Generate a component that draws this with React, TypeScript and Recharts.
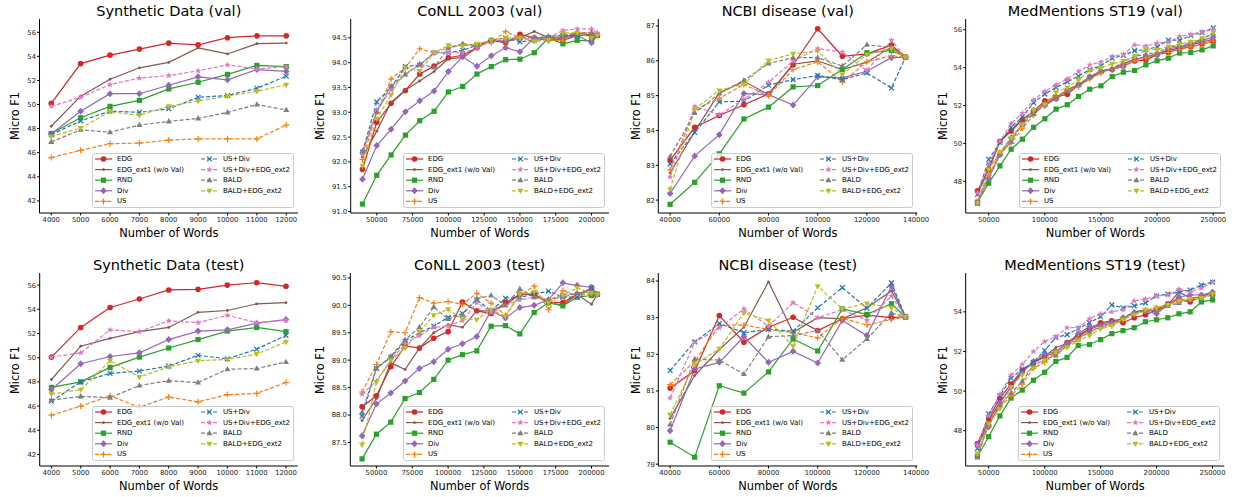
import React from 'react';
import { LineChart, Line, XAxis, YAxis } from 'recharts';

// method order is shared by every panel
const methods = ['EDG', 'EDG_ext1 (w/o Val)', 'RND', 'Div', 'US', 'US+Div', 'US+Div+EDG_ext2', 'BALD', 'BALD+EDG_ext2'];
const colors = ['#d62728', '#8c564b', '#2ca02c', '#9467bd', '#ff7f0e', '#1f77b4', '#e377c2', '#7f7f7f', '#bcbd22'];
const markerKinds = ['circle', 'point', 'square', 'diamond', 'plus', 'x', 'star', 'triUp', 'triDown'];
const dashedLines = [false, false, false, false, true, true, true, true, true];

// x values (number of words)
const synWords = [4000, 5000, 6000, 7000, 8000, 9000, 10000, 11000, 12000];
const conllWords = [40000, 50000, 60000, 70000, 80000, 90000, 100000, 110000, 120000, 130000, 140000, 150000, 160000, 170000, 180000, 190000, 200000, 204000];
const ncbiWords = [40000, 50000, 60000, 70000, 80000, 90000, 100000, 110000, 120000, 130000, 135700];
const medWords = [40000, 50000, 60000, 70000, 80000, 90000, 100000, 110000, 120000, 130000, 140000, 150000, 160000, 170000, 180000, 190000, 200000, 210000, 220000, 230000, 240000, 250000];

// Micro F1, one row per method (same order as `methods`)
const synValF1 = [
  [50.1, 53.4, 54.1, 54.6, 55.1, 54.95, 55.55, 55.7, 55.7],
  [48.2, 50.7, 52.1, 53.05, 53.5, 54.7, 54.2, 55.05, 55.1],
  [47.6, 48.9, 49.85, 50.35, 51.3, 51.85, 52.5, 53.25, 53.15],
  [47.55, 49.45, 50.9, 50.9, 51.6, 52.3, 52.05, 52.9, 52.75],
  [45.6, 46.2, 46.75, 46.8, 47.05, 47.15, 47.15, 47.15, 48.3],
  [47.5, 48.65, 49.45, 49.35, 49.65, 50.6, 50.75, 51.35, 52.35],
  [49.85, 50.6, 51.65, 52.2, 52.4, 52.8, 53.3, 52.95, 53.15],
  [46.9, 47.9, 47.7, 48.3, 48.6, 48.85, 49.35, 50.0, 49.55],
  [47.35, 48.05, 49.4, 49.1, 49.85, 50.3, 50.7, 51.1, 51.65],
];
const synTestF1 = [
  [50.05, 52.5, 54.15, 54.85, 55.6, 55.65, 56.0, 56.2, 55.9],
  [48.2, 50.95, 51.6, 52.15, 52.5, 53.75, 53.9, 54.45, 54.55],
  [47.55, 48.0, 49.2, 50.05, 50.8, 51.5, 52.2, 52.5, 52.15],
  [47.35, 49.5, 50.1, 50.4, 51.5, 52.2, 52.3, 52.85, 53.15],
  [45.25, 46.0, 46.85, 45.9, 46.75, 46.35, 46.95, 47.05, 47.95],
  [46.4, 48.0, 48.7, 48.9, 49.3, 50.2, 49.9, 50.7, 51.85],
  [50.05, 50.4, 52.3, 52.15, 53.05, 52.9, 53.5, 52.9, 53.1],
  [46.5, 46.8, 46.7, 47.7, 48.1, 47.95, 49.05, 49.1, 49.65],
  [47.0, 47.35, 49.75, 48.4, 49.25, 49.75, 49.85, 50.3, 51.3],
];
const conllValF1 = [
  [91.85, 92.8, 93.18, 93.44, 93.77, 93.93, 94.1, 94.15, 94.3, 94.45, 94.4, 94.57, 94.5, 94.5, 94.45, 94.55, 94.55, 94.55],
  [92.1, 92.62, 93.2, 93.45, 93.63, 93.82, 94.08, 94.1, 94.3, 94.47, 94.42, 94.5, 94.63, 94.5, 94.5, 94.6, 94.55, 94.55],
  [91.15, 91.73, 92.14, 92.54, 92.83, 93.02, 93.41, 93.52, 93.77, 93.92, 94.06, 94.07, 94.2, 94.5, 94.38, 94.45, 94.44, 94.55],
  [91.65, 92.33, 92.66, 93.01, 93.23, 93.43, 93.82, 94.12, 93.93, 94.14, 94.3, 94.22, 94.5, 94.45, 94.5, 94.55, 94.4, 94.55],
  [92.05, 93.0, 93.67, 93.9, 94.28, 94.2, 94.3, 94.35, 94.35, 94.4, 94.63, 94.5, 94.45, 94.45, 94.45, 94.6, 94.6, 94.55],
  [92.2, 93.21, 93.5, 93.92, 93.95, 94.2, 94.2, 94.25, 94.35, 94.45, 94.5, 94.42, 94.45, 94.5, 94.55, 94.55, 94.55, 94.55],
  [92.15, 93.05, 93.45, 93.78, 93.95, 94.2, 94.2, 94.2, 94.3, 94.45, 94.45, 94.5, 94.45, 94.5, 94.65, 94.68, 94.68, 94.6],
  [92.22, 93.0, 93.53, 93.76, 93.97, 93.9, 94.3, 94.38, 94.35, 94.45, 94.42, 94.5, 94.5, 94.53, 94.55, 94.6, 94.6, 94.55],
  [91.92, 92.87, 93.35, 93.9, 93.83, 94.2, 94.35, 94.33, 94.38, 94.45, 94.5, 94.5, 94.43, 94.45, 94.6, 94.6, 94.5, 94.55],
];
const conllTestF1 = [
  [88.15, 88.35, 88.88, 89.26, 89.22, 89.4, 89.52, 90.06, 89.9, 89.85, 90.05, 90.2, 90.2, 90.05, 90.05, 90.2, 90.3, 90.2],
  [87.9, 88.3, 88.95, 88.83, 89.22, 89.5, 89.65, 89.6, 89.9, 89.9, 90.0, 90.2, 90.2, 90.05, 90.0, 90.2, 90.02, 90.2],
  [87.2, 87.65, 87.87, 88.3, 88.41, 88.65, 89.0, 89.1, 89.17, 89.62, 89.63, 89.48, 89.87, 90.05, 89.99, 90.15, 90.18, 90.2],
  [87.62, 88.2, 88.4, 88.62, 88.85, 88.97, 89.2, 89.3, 89.43, 89.9, 89.77, 89.96, 90.0, 90.1, 90.41, 90.36, 90.33, 90.2],
  [88.42, 88.92, 89.52, 89.5, 90.14, 90.04, 90.07, 90.02, 90.22, 90.04, 89.82, 90.18, 90.35, 89.92, 90.27, 90.17, 90.22, 90.2],
  [87.98, 88.85, 89.05, 89.35, 89.5, 89.62, 89.78, 89.85, 90.1, 89.9, 90.13, 90.15, 90.2, 90.26, 90.15, 90.15, 90.32, 90.2],
  [88.38, 88.62, 89.0, 89.3, 89.45, 89.6, 89.62, 89.72, 90.05, 89.87, 90.0, 90.1, 90.15, 90.1, 90.2, 90.2, 90.25, 90.2],
  [88.05, 88.85, 89.07, 89.37, 89.6, 89.97, 89.75, 89.83, 90.12, 90.18, 90.0, 90.3, 90.15, 90.1, 90.15, 90.22, 90.25, 90.2],
  [87.46, 88.6, 89.0, 89.22, 89.52, 89.82, 89.93, 89.75, 89.74, 89.92, 89.8, 90.2, 90.25, 90.05, 90.18, 90.32, 90.22, 90.2],
];
const ncbiValF1 = [
  [83.15, 84.09, 84.43, 84.74, 85.05, 85.88, 86.92, 86.13, 86.2, 86.45, 86.1],
  [82.78, 83.97, 85.08, 85.41, 85.03, 85.9, 86.0, 85.75, 85.96, 86.4, 86.1],
  [81.88, 82.51, 83.33, 84.33, 84.67, 85.25, 85.29, 85.75, 86.23, 86.3, 86.1],
  [82.19, 83.27, 83.88, 85.06, 85.03, 84.73, 85.54, 85.51, 85.7, 86.09, 86.1],
  [82.87, 84.6, 84.92, 85.32, 85.0, 85.75, 85.97, 85.39, 85.97, 86.15, 86.1],
  [83.04, 83.94, 84.82, 84.84, 85.3, 85.46, 85.58, 85.46, 85.65, 85.22, 86.1],
  [82.67, 84.69, 84.45, 84.9, 85.38, 86.0, 86.35, 86.25, 85.72, 86.59, 86.1],
  [83.25, 84.5, 85.06, 85.44, 85.92, 86.09, 86.09, 85.85, 86.46, 86.38, 86.1],
  [82.31, 84.62, 85.15, 85.33, 86.01, 86.2, 86.28, 85.61, 86.18, 86.35, 86.1],
];
const ncbiTestF1 = [
  [81.08, 81.55, 83.06, 82.33, 82.74, 83.01, 82.65, 82.97, 83.07, 83.0, 83.02],
  [80.25, 81.42, 82.13, 82.74, 83.98, 82.6, 83.0, 82.97, 83.27, 83.73, 83.02],
  [79.6, 79.19, 81.14, 80.94, 81.52, 82.42, 82.09, 83.24, 83.09, 83.38, 83.02],
  [79.91, 81.6, 81.78, 82.48, 81.78, 82.08, 81.76, 82.92, 82.51, 83.86, 83.02],
  [81.17, 81.81, 82.79, 82.8, 82.68, 82.59, 82.45, 82.98, 82.8, 82.95, 83.02],
  [81.56, 82.34, 82.84, 82.59, 82.68, 82.63, 83.27, 83.82, 83.26, 83.95, 83.02],
  [80.81, 82.33, 82.72, 83.24, 82.77, 83.41, 83.0, 83.22, 82.93, 83.59, 83.02],
  [80.08, 81.87, 81.84, 81.46, 82.48, 82.51, 82.65, 81.85, 82.42, 83.13, 83.02],
  [80.35, 81.72, 82.15, 83.13, 82.92, 82.22, 83.86, 83.24, 83.39, 83.27, 83.02],
];
const medValF1 = [
  [47.49, 48.6, 50.1, 50.65, 51.25, 51.7, 52.25, 52.45, 52.6, 53.1, 53.5, 53.8, 53.9, 54.1, 54.35, 54.4, 54.7, 54.8, 55.0, 55.1, 55.25, 55.4],
  [47.3, 48.7, 50.1, 50.7, 51.3, 51.6, 52.1, 52.4, 52.8, 53.1, 53.4, 53.8, 53.95, 54.2, 54.45, 54.55, 54.75, 54.9, 55.05, 55.2, 55.35, 55.5],
  [46.89, 47.89, 48.81, 49.69, 50.22, 50.85, 51.3, 51.81, 52.04, 52.48, 52.86, 53.04, 53.53, 53.76, 53.85, 54.15, 54.36, 54.5, 54.77, 54.8, 54.94, 55.15],
  [46.9, 48.15, 49.4, 50.3, 51.0, 51.75, 52.0, 52.35, 52.85, 53.1, 53.5, 53.8, 53.9, 54.05, 54.4, 54.6, 54.65, 55.0, 55.1, 55.25, 55.45, 55.6],
  [46.9, 48.3, 49.5, 50.0, 50.8, 51.5, 52.1, 52.5, 52.8, 53.0, 53.4, 53.7, 53.95, 54.1, 54.35, 54.5, 54.75, 54.8, 54.95, 55.1, 55.25, 55.4],
  [47.3, 49.15, 50.05, 50.85, 51.4, 52.15, 52.6, 52.95, 53.25, 53.55, 53.9, 54.1, 54.5, 54.65, 54.9, 54.95, 55.1, 55.45, 55.45, 55.7, 55.85, 56.1],
  [47.4, 48.9, 50.1, 51.05, 51.6, 52.3, 52.75, 53.1, 53.4, 53.8, 54.15, 54.3, 54.6, 54.7, 55.2, 55.15, 55.3, 55.35, 55.65, 55.75, 55.9, 56.0],
  [46.8, 48.7, 49.4, 50.1, 51.0, 51.55, 52.05, 52.35, 52.75, 53.1, 53.5, 53.85, 53.95, 54.3, 54.6, 54.7, 54.8, 55.05, 55.2, 55.3, 55.5, 55.8],
  [46.85, 48.6, 49.55, 50.3, 51.0, 51.75, 52.05, 52.7, 52.95, 53.35, 53.85, 54.0, 54.2, 54.35, 54.6, 54.95, 54.95, 55.1, 55.25, 55.35, 55.55, 55.85],
];
const medTestF1 = [
  [47.35, 48.6, 49.65, 50.35, 51.05, 51.4, 51.75, 51.95, 52.45, 52.8, 53.15, 53.45, 53.55, 53.45, 53.7, 53.85, 54.1, 54.4, 54.65, 54.5, 54.8, 54.85],
  [47.2, 48.5, 49.45, 50.2, 51.0, 51.45, 51.75, 52.2, 52.4, 52.75, 53.1, 53.35, 53.55, 53.65, 54.0, 54.1, 54.05, 54.35, 55.0, 54.7, 54.75, 55.0],
  [46.7, 47.7, 48.75, 49.65, 50.05, 50.55, 50.95, 51.5, 51.7, 52.3, 52.35, 52.6, 52.9, 53.05, 53.2, 53.5, 53.6, 53.7, 53.9, 54.0, 54.5, 54.6],
  [47.3, 48.2, 49.4, 50.2, 50.95, 51.5, 51.85, 52.0, 52.4, 52.9, 53.25, 53.3, 53.45, 53.7, 53.95, 54.05, 53.9, 54.35, 54.75, 54.85, 54.85, 55.0],
  [46.75, 48.3, 49.2, 49.75, 50.35, 51.15, 51.45, 51.9, 52.3, 52.7, 53.0, 53.2, 53.3, 53.65, 53.9, 54.05, 54.2, 54.4, 54.5, 54.65, 54.75, 54.9],
  [47.1, 48.85, 49.75, 50.65, 51.1, 51.45, 52.05, 52.7, 52.85, 53.15, 53.45, 53.75, 54.35, 54.2, 54.3, 54.45, 54.8, 54.9, 55.0, 55.1, 55.35, 55.5],
  [47.25, 48.75, 49.85, 50.8, 51.35, 52.0, 52.5, 52.75, 53.2, 53.2, 53.65, 53.9, 54.0, 54.1, 54.55, 54.65, 54.8, 54.85, 55.15, 55.0, 55.2, 55.5],
  [46.65, 48.35, 49.3, 49.9, 50.5, 51.3, 51.6, 51.8, 52.3, 52.6, 53.0, 53.25, 53.4, 53.7, 54.0, 54.05, 54.1, 54.3, 54.45, 54.6, 54.7, 54.85],
  [46.85, 48.35, 49.1, 50.2, 50.8, 51.15, 51.55, 51.95, 52.2, 52.55, 52.8, 53.15, 53.3, 53.6, 53.85, 54.1, 54.2, 54.35, 54.55, 54.65, 54.7, 54.9],
];

// tick labels
const synXTicks = [4000, 5000, 6000, 7000, 8000, 9000, 10000, 11000, 12000];
const synYTicks = [42, 44, 46, 48, 50, 52, 54, 56];
const conllXTicks = [50000, 75000, 100000, 125000, 150000, 175000, 200000];
const conllValYTicks = [91.0, 91.5, 92.0, 92.5, 93.0, 93.5, 94.0, 94.5];
const conllTestYTicks = [87.5, 88.0, 88.5, 89.0, 89.5, 90.0, 90.5];
const ncbiXTicks = [40000, 60000, 80000, 100000, 120000, 140000];
const ncbiValYTicks = [82, 83, 84, 85, 86, 87];
const ncbiTestYTicks = [79, 80, 81, 82, 83, 84];
const medXTicks = [50000, 100000, 150000, 200000, 250000];
const medValYTicks = [48, 50, 52, 54, 56];
const medTestYTicks = [48, 50, 52, 54];

const FONT = 'DejaVu Sans, sans-serif';
const PW = 324;
const PH = 250;

const panels = [
  { title: 'Synthetic Data (val)', px: 0, py: 0, plot: [39.5, 19, 298, 213], ylabX: 15, xs: synWords, f1: synValF1, xDom: [3600, 12400], yDom: [41.0, 57.1], xTicks: synXTicks, yTicks: synYTicks, dec: 0 },
  { title: 'CoNLL 2003 (val)', px: 305, py: 0, plot: [45.7, 19, 304, 213], ylabX: 15, xs: conllWords, f1: conllValF1, xDom: [31800, 212200], yDom: [90.97, 94.88], xTicks: conllXTicks, yTicks: conllValYTicks, dec: 1 },
  { title: 'NCBI disease (val)', px: 615, py: 0, plot: [43.3, 19, 302.3, 213], ylabX: 20.5, xs: ncbiWords, f1: ncbiValF1, xDom: [35200, 140500], yDom: [81.63, 87.2], xTicks: ncbiXTicks, yTicks: ncbiValYTicks, dec: 0 },
  { title: 'MedMentions ST19 (val)', px: 925, py: 0, plot: [40.7, 19, 300, 213], ylabX: 18, xs: medWords, f1: medValF1, xDom: [29500, 260500], yDom: [46.32, 56.57], xTicks: medXTicks, yTicks: medValYTicks, dec: 0 },
  { title: 'Synthetic Data (test)', px: 0, py: 250, plot: [39.7, 23, 297.7, 216], ylabX: 15, xs: synWords, f1: synTestF1, xDom: [3600, 12400], yDom: [41.05, 57.0], xTicks: synXTicks, yTicks: synYTicks, dec: 0 },
  { title: 'CoNLL 2003 (test)', px: 305, py: 250, plot: [45.3, 23, 304, 216], ylabX: 15, xs: conllWords, f1: conllTestF1, xDom: [31800, 212200], yDom: [87.07, 90.59], xTicks: conllXTicks, yTicks: conllTestYTicks, dec: 1 },
  { title: 'NCBI disease (test)', px: 615, py: 250, plot: [43.3, 23, 302.3, 216], ylabX: 21, xs: ncbiWords, f1: ncbiTestF1, xDom: [35200, 140500], yDom: [78.95, 84.22], xTicks: ncbiXTicks, yTicks: ncbiTestYTicks, dec: 0 },
  { title: 'MedMentions ST19 (test)', px: 925, py: 250, plot: [40.7, 23, 299.3, 216], ylabX: 17.7, xs: medWords, f1: medTestF1, xDom: [29500, 260500], yDom: [46.22, 55.96], xTicks: medXTicks, yTicks: medTestYTicks, dec: 0 },
];

function Marker({ kind, cx, cy, color }: { kind: string; cx: number; cy: number; color: string }) {
  switch (kind) {
    case 'circle':
      return <circle cx={cx} cy={cy} r={2.8} fill={color} />;
    case 'point':
      return <circle cx={cx} cy={cy} r={1.4} fill={color} />;
    case 'square':
      return <rect x={cx - 2.6} y={cy - 2.6} width={5.2} height={5.2} fill={color} />;
    case 'diamond':
      return <polygon points={`${cx},${cy - 3.5} ${cx + 3.3},${cy} ${cx},${cy + 3.5} ${cx - 3.3},${cy}`} fill={color} />;
    case 'plus':
      return <path d={`M${cx - 3},${cy}H${cx + 3}M${cx},${cy - 3}V${cy + 3}`} stroke={color} strokeWidth={1.2} />;
    case 'x':
      return <path d={`M${cx - 2.4},${cy - 2.4}L${cx + 2.4},${cy + 2.4}M${cx + 2.4},${cy - 2.4}L${cx - 2.4},${cy + 2.4}`} stroke={color} strokeWidth={1.2} />;
    case 'star': {
      const pts: string[] = [];
      for (let k = 0; k < 10; k++) {
        const r = k % 2 === 0 ? 3.4 : 1.4;
        const a = -Math.PI / 2 + (k * Math.PI) / 5;
        pts.push(`${cx + r * Math.cos(a)},${cy + r * Math.sin(a)}`);
      }
      return <polygon points={pts.join(' ')} fill={color} />;
    }
    case 'triUp':
      return <polygon points={`${cx},${cy - 3.3} ${cx + 3},${cy + 2} ${cx - 3},${cy + 2}`} fill={color} />;
    case 'triDown':
      return <polygon points={`${cx},${cy + 3.3} ${cx + 3},${cy - 2} ${cx - 3},${cy - 2}`} fill={color} />;
    default:
      return null;
  }
}

function LegendBox({ left, top }: { left: number; top: number }) {
  return (
    <svg style={{ position: 'absolute', left, top }} width={203} height={56}>
      <rect x={0.5} y={0.5} width={201} height={54} rx={2} fill="#fff" fillOpacity={0.8} stroke="#cccccc" />
      {methods.map((m, i) => {
        const col = i < 5 ? 0 : 1;
        const row = i < 5 ? i : i - 5;
        const hx = col === 0 ? 3 : 109;
        const cy = 6 + row * 10.6;
        return (
          <g key={m}>
            <line x1={hx} x2={hx + 17} y1={cy} y2={cy} stroke={colors[i]} strokeWidth={1.2} strokeDasharray={dashedLines[i] ? '4 2' : undefined} />
            <Marker kind={markerKinds[i]} cx={hx + 8.5} cy={cy} color={colors[i]} />
            <text x={hx + 22} y={cy} dominantBaseline="central" fontSize={7} fontFamily={FONT} fill="#000">{m}</text>
          </g>
        );
      })}
    </svg>
  );
}

function Panel({ p }: { p: (typeof panels)[number] }) {
  const [pl, pt, pr, pb] = p.plot;
  const data = p.xs.map((x, i) => {
    const row: Record<string, number> = { x };
    p.f1.forEach((s, k) => { row[`m${k}`] = s[i]; });
    return row;
  });
  const tickStyle = { fontSize: 6.8, fill: '#222', fontFamily: FONT };
  const fmt = (v: number) => (p.dec ? v.toFixed(p.dec) : String(v));
  const cxPlot = (pl + pr) / 2;
  return (
    <div style={{ position: 'absolute', left: p.px, top: p.py, width: PW, height: PH }}>
      <LineChart width={PW} height={PH} data={data} margin={{ top: pt, right: PW - pr, left: 0, bottom: 0 }}>
        <XAxis dataKey="x" type="number" domain={p.xDom} ticks={p.xTicks} interval={0} height={PH - pb}
          tick={tickStyle} tickSize={2.5} tickMargin={1.5} axisLine={{ stroke: '#000' }} tickLine={{ stroke: '#000' }} />
        <XAxis xAxisId="top" orientation="top" dataKey="x" type="number" domain={p.xDom} height={0}
          tick={false} tickLine={false} axisLine={{ stroke: '#000' }} />
        <YAxis type="number" domain={p.yDom} ticks={p.yTicks} interval={0} width={pl} tickFormatter={fmt}
          tick={tickStyle} tickSize={2.5} tickMargin={1} axisLine={{ stroke: '#000' }} tickLine={{ stroke: '#000' }} />
        <YAxis yAxisId="right" orientation="right" type="number" domain={p.yDom} width={0}
          tick={false} tickLine={false} axisLine={{ stroke: '#000' }} />
        {methods.map((m, k) => (
          <Line key={m} name={m} dataKey={`m${k}`} stroke={colors[k]} strokeWidth={1.2}
            strokeDasharray={dashedLines[k] ? '4 2' : undefined} isAnimationActive={false} activeDot={false}
            dot={(d: any) => <Marker key={`${m}-${d.index}`} kind={markerKinds[k]} cx={d.cx} cy={d.cy} color={colors[k]} />} />
        ))}
      </LineChart>
      <div style={{ position: 'absolute', left: pl, width: pr - pl, top: pt - 16, lineHeight: '16px', textAlign: 'center', fontSize: 14.5, fontFamily: FONT, color: '#000' }}>
        {p.title}
      </div>
      <div style={{ position: 'absolute', left: cxPlot - 60, width: 120, top: pb + 13, lineHeight: '14px', textAlign: 'center', fontSize: 11.4, fontFamily: FONT, color: '#000' }}>
        Number of Words
      </div>
      <div style={{ position: 'absolute', left: p.ylabX - 40, width: 80, top: (pt + pb) / 2 - 7, lineHeight: '14px', textAlign: 'center', fontSize: 11.4, fontFamily: FONT, color: '#000', transform: 'rotate(-90deg)' }}>
        Micro F1
      </div>
      <LegendBox left={pr - 4 - 202} top={pb - 5 - 55} />
    </div>
  );
}

export default function App() {
  return (
    <div style={{ position: 'absolute', left: 0, top: 0, width: 1238, height: 497, background: '#fff', overflow: 'hidden' }}>
      {panels.map((p) => (
        <Panel key={p.title} p={p} />
      ))}
    </div>
  );
}
